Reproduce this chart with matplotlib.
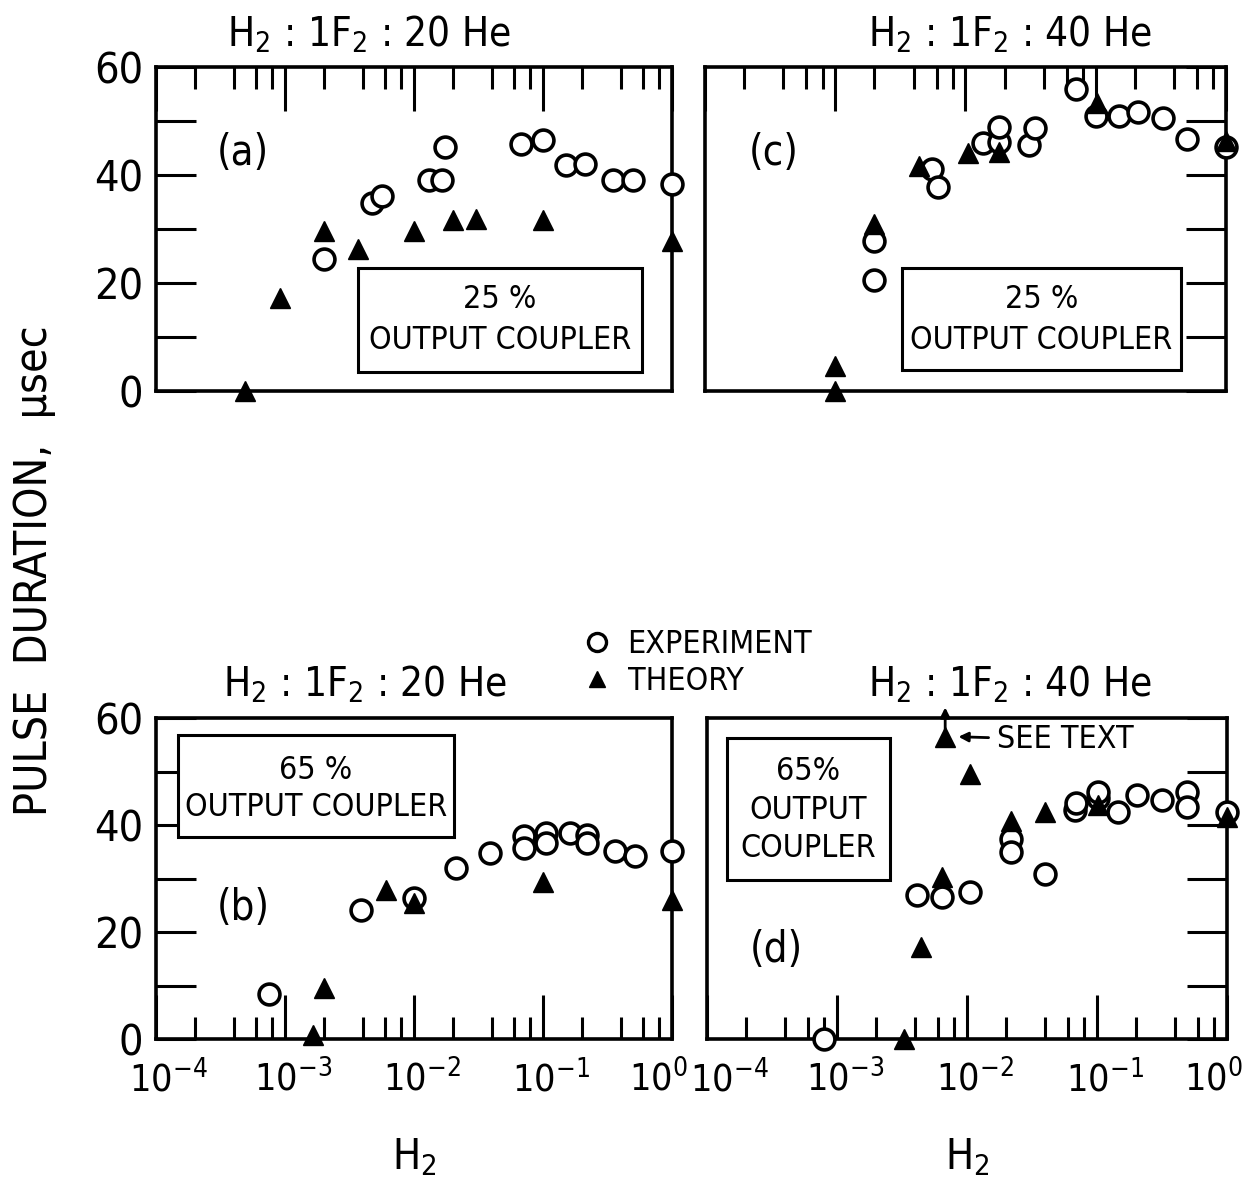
import matplotlib
matplotlib.use('Agg')
import matplotlib.pyplot as plt
from matplotlib import font_manager
from matplotlib.lines import Line2D
from matplotlib.patches import Rectangle
from matplotlib.ticker import LogLocator, FixedLocator, NullFormatter
from matplotlib.transforms import ScaledTranslation

# narrow lettering look: condensed DejaVu if present, otherwise Liberation Sans
fonts = font_manager.fontManager.ttflist
if any(f.name == 'DejaVu Sans' and f.stretch == 'condensed' for f in fonts):
    FAMILY = 'DejaVu Sans'
    plt.rcParams['font.stretch'] = 'condensed'
else:
    FAMILY = 'Liberation Sans'
plt.rcParams['font.family'] = [FAMILY, 'DejaVu Sans']
plt.rcParams['mathtext.fontset'] = 'custom'
plt.rcParams['mathtext.rm'] = FAMILY
plt.rcParams['mathtext.default'] = 'regular'

# (a) H2:1F2:20He, 25% output coupler
a_exp_x = [2e-3, 4.7e-3, 5.7e-3, 1.3e-2, 1.65e-2, 1.75e-2, 6.7e-2, 0.10, 0.15, 0.21, 0.35, 0.50, 1.0]
a_exp_y = [24.4, 34.9, 36.2, 39.0, 39.0, 45.1, 45.8, 46.5, 41.9, 42.0, 39.1, 39.0, 38.3]
a_th_x = [4.9e-4, 9.1e-4, 2e-3, 3.7e-3, 1e-2, 2e-2, 3e-2, 0.1, 1.0]
a_th_y = [0, 17.3, 29.7, 26.3, 29.7, 31.7, 31.8, 31.7, 27.8]

# (c) H2:1F2:40He, 25% output coupler
c_exp_x = [2e-3, 2e-3, 5.5e-3, 6.2e-3, 1.37e-2, 1.8e-2, 1.8e-2, 3.1e-2, 3.4e-2,
           7.1e-2, 0.1, 0.15, 0.21, 0.33, 0.5, 1.0]
c_exp_y = [20.5, 27.8, 41.1, 37.7, 45.9, 46.1, 48.9, 45.6, 48.7,
           55.9, 51.0, 51.0, 51.6, 50.6, 46.6, 45.1]
c_th_x = [1e-3, 1e-3, 2e-3, 4.4e-3, 1.04e-2, 1.8e-2, 0.103, 1.0]
c_th_y = [0, 4.7, 30.9, 41.7, 44.1, 44.3, 53.4, 46.3]

# (b) H2:1F2:20He, 65% output coupler
b_exp_x = [7.5e-4, 3.9e-3, 1e-2, 2.1e-2, 3.9e-2, 7.1e-2, 7.1e-2, 0.105, 0.105,
           0.163, 0.218, 0.218, 0.363, 0.515, 1.0]
b_exp_y = [8.4, 24.2, 26.4, 32.0, 34.8, 37.9, 35.7, 38.5, 36.6,
           38.5, 38.2, 36.6, 35.1, 34.2, 35.1]
b_th_x = [1.66e-3, 2e-3, 6.1e-3, 1e-2, 0.1, 1.0]
b_th_y = [0.8, 9.5, 27.8, 25.5, 29.4, 26.0]

# (d) H2:1F2:40He, 65% output coupler
d_exp_x = [7.9e-4, 4.1e-3, 6.4e-3, 1.06e-2, 2.2e-2, 2.2e-2, 4.0e-2, 6.8e-2, 6.9e-2,
           0.102, 0.102, 0.145, 0.203, 0.316, 0.49, 0.49, 1.0]
d_exp_y = [0, 26.9, 26.6, 27.5, 37.3, 35.0, 30.9, 42.8, 44.1,
           45.0, 46.2, 42.4, 45.6, 44.7, 46.2, 43.3, 42.4]
d_th_x = [3.3e-3, 4.4e-3, 6.4e-3, 6.8e-3, 1.06e-2, 2.2e-2, 4.0e-2, 0.102, 1.0]
d_th_y = [0, 17.2, 30.3, 56.5, 49.5, 40.7, 42.5, 43.7, 41.5]

see_text_x = 6.8e-3
see_text_y = 56.5

x_ticks = [1e-4, 1e-3, 1e-2, 1e-1, 1e0]
x_ticklabels = ['$10^{-4}$', '$10^{-3}$', '$10^{-2}$', '$10^{-1}$', '$10^{0}$']
y_ticks = [0, 20, 40, 60]

LW = 2.6
TICK_FS = 27
fig = plt.figure(figsize=(12.46, 11.86), dpi=100)


def shift(text, px):
    text.set_transform(text.get_transform() + ScaledTranslation(px / 100, 0, fig.dpi_scale_trans))


def panel(rect, exp_x, exp_y, th_x, th_y, top, left, box, box_lines, label, label_pos):
    ax = fig.add_axes(rect)
    ax.set_xscale('log')
    ax.set_xlim(1e-4, 1e0)
    ax.set_ylim(0, 60)
    for s in ax.spines.values():
        s.set_linewidth(LW)
        s.set_zorder(2)
    ax.xaxis.set_major_locator(FixedLocator(x_ticks))
    ax.xaxis.set_minor_locator(LogLocator(base=10, subs=(2, 4, 6, 8)))
    ax.xaxis.set_minor_formatter(NullFormatter())
    ax.yaxis.set_major_locator(FixedLocator(y_ticks))
    ax.yaxis.set_minor_locator(FixedLocator([10, 30, 50]))
    ax.tick_params(axis='x', which='major', direction='in', length=32, width=2.2)
    ax.tick_params(axis='x', which='minor', direction='in', length=16, width=2.2)
    ax.tick_params(axis='y', which='both', direction='in', length=29, width=2.2)
    if top:
        ax.xaxis.set_ticks_position('top')
        ax.tick_params(axis='x', which='both', labeltop=False, labelbottom=False)
    else:
        ax.xaxis.set_ticks_position('bottom')
        ax.set_xticklabels(x_ticklabels)
        ax.tick_params(axis='x', which='major', labelsize=TICK_FS, pad=15)
        ax.set_xlabel('H$_2$', fontsize=30, labelpad=26)
    if left:
        ax.yaxis.set_ticks_position('left')
        ax.set_yticklabels([str(v) for v in y_ticks])
        ax.tick_params(axis='y', which='major', labelsize=31, pad=9)
    else:
        ax.yaxis.set_ticks_position('right')
        ax.tick_params(axis='y', which='both', labelright=False, labelleft=False)

    ax.plot(exp_x, exp_y, 'o', ms=15, mfc='white', mec='black', mew=2.6,
            clip_on=False, zorder=5)
    ax.plot(th_x, th_y, '^', ms=14, color='black', clip_on=False, zorder=6)

    x0, y0, x1, y1 = box
    ax.add_patch(Rectangle((x0, y0), x1 - x0, y1 - y0, transform=ax.transAxes,
                           fill=True, facecolor='white', edgecolor='black',
                           lw=2.2, zorder=3))
    for txt, tx, ty in box_lines:
        ax.text(tx, ty, txt, transform=ax.transAxes, fontsize=23,
                ha='center', va='center', zorder=4)
    ax.text(label_pos[0], label_pos[1], label, transform=ax.transAxes,
            fontsize=30, ha='center', va='center')
    return ax


ax_a = panel([0.1252, 0.6703, 0.4141, 0.2732], a_exp_x, a_exp_y, a_th_x, a_th_y,
             True, True, (0.391, 0.059, 0.942, 0.380),
             [('25 %', 0.666, 0.281), ('OUTPUT COUPLER', 0.666, 0.157)],
             '(a)', (0.169, 0.735))
ax_c = panel([0.5658, 0.6703, 0.4181, 0.2732], c_exp_x, c_exp_y, c_th_x, c_th_y,
             True, False, (0.378, 0.065, 0.914, 0.380),
             [('25 %', 0.646, 0.281), ('OUTPUT COUPLER', 0.646, 0.157)],
             '(c)', (0.132, 0.735))
ax_b = panel([0.1252, 0.1239, 0.4141, 0.2707], b_exp_x, b_exp_y, b_th_x, b_th_y,
             False, True, (0.043, 0.629, 0.578, 0.947),
             [('65 %', 0.31, 0.838), ('OUTPUT COUPLER', 0.31, 0.72)],
             '(b)', (0.17, 0.408))
ax_d = panel([0.5674, 0.1239, 0.4173, 0.2707], d_exp_x, d_exp_y, d_th_x, d_th_y,
             False, False, (0.038, 0.495, 0.352, 0.938),
             [('65%', 0.195, 0.832), ('OUTPUT', 0.195, 0.713), ('COUPLER', 0.195, 0.595)],
             '(d)', (0.133, 0.277))

# keep the "10" under the tick and the neighbouring end labels apart
for ax, offsets in ((ax_b, [12, 8, 8, 8, -14]), (ax_d, [22, 8, 8, 8, -14])):
    for lab, dx in zip(ax.get_xticklabels(), offsets):
        shift(lab, dx)

# off-scale marker in (d)
ax_d.annotate('', xy=(see_text_x, 62.5), xytext=(see_text_x, see_text_y),
              arrowprops=dict(arrowstyle='-|>', lw=2, color='black', mutation_scale=14),
              annotation_clip=False)
ax_d.annotate('SEE TEXT', xy=(8.6e-3, see_text_y), xytext=(1.7e-2, 55.9),
              fontsize=23, va='center', ha='left',
              arrowprops=dict(arrowstyle='-|>', lw=2, color='black', mutation_scale=14,
                              shrinkA=4, shrinkB=0))

# panel titles
TITLE_FS = 29
fig.text(0.296, 0.9705, 'H$_2$ : 1F$_2$ : 20 He', fontsize=TITLE_FS, ha='center', va='center')
fig.text(0.8106, 0.9705, 'H$_2$ : 1F$_2$ : 40 He', fontsize=TITLE_FS, ha='center', va='center')
fig.text(0.293, 0.4224, 'H$_2$ : 1F$_2$ : 20 He', fontsize=TITLE_FS, ha='center', va='center')
fig.text(0.8106, 0.4224, 'H$_2$ : 1F$_2$ : 40 He', fontsize=TITLE_FS, ha='center', va='center')

fig.text(0.028, 0.519, 'PULSE  DURATION,  μsec', rotation=90, fontsize=32,
         ha='center', va='center')

handles = [Line2D([], [], ls='none', marker='o', ms=13, mfc='white', mec='black', mew=2.4),
           Line2D([], [], ls='none', marker='^', ms=12, color='black')]
fig.legend(handles, ['EXPERIMENT', 'THEORY'], loc='center left',
           bbox_to_anchor=(0.455, 0.441), frameon=False, fontsize=23,
           handlelength=0.9, handletextpad=0.5, labelspacing=0.2, borderpad=0)

fig.savefig('out.png', dpi=100)
